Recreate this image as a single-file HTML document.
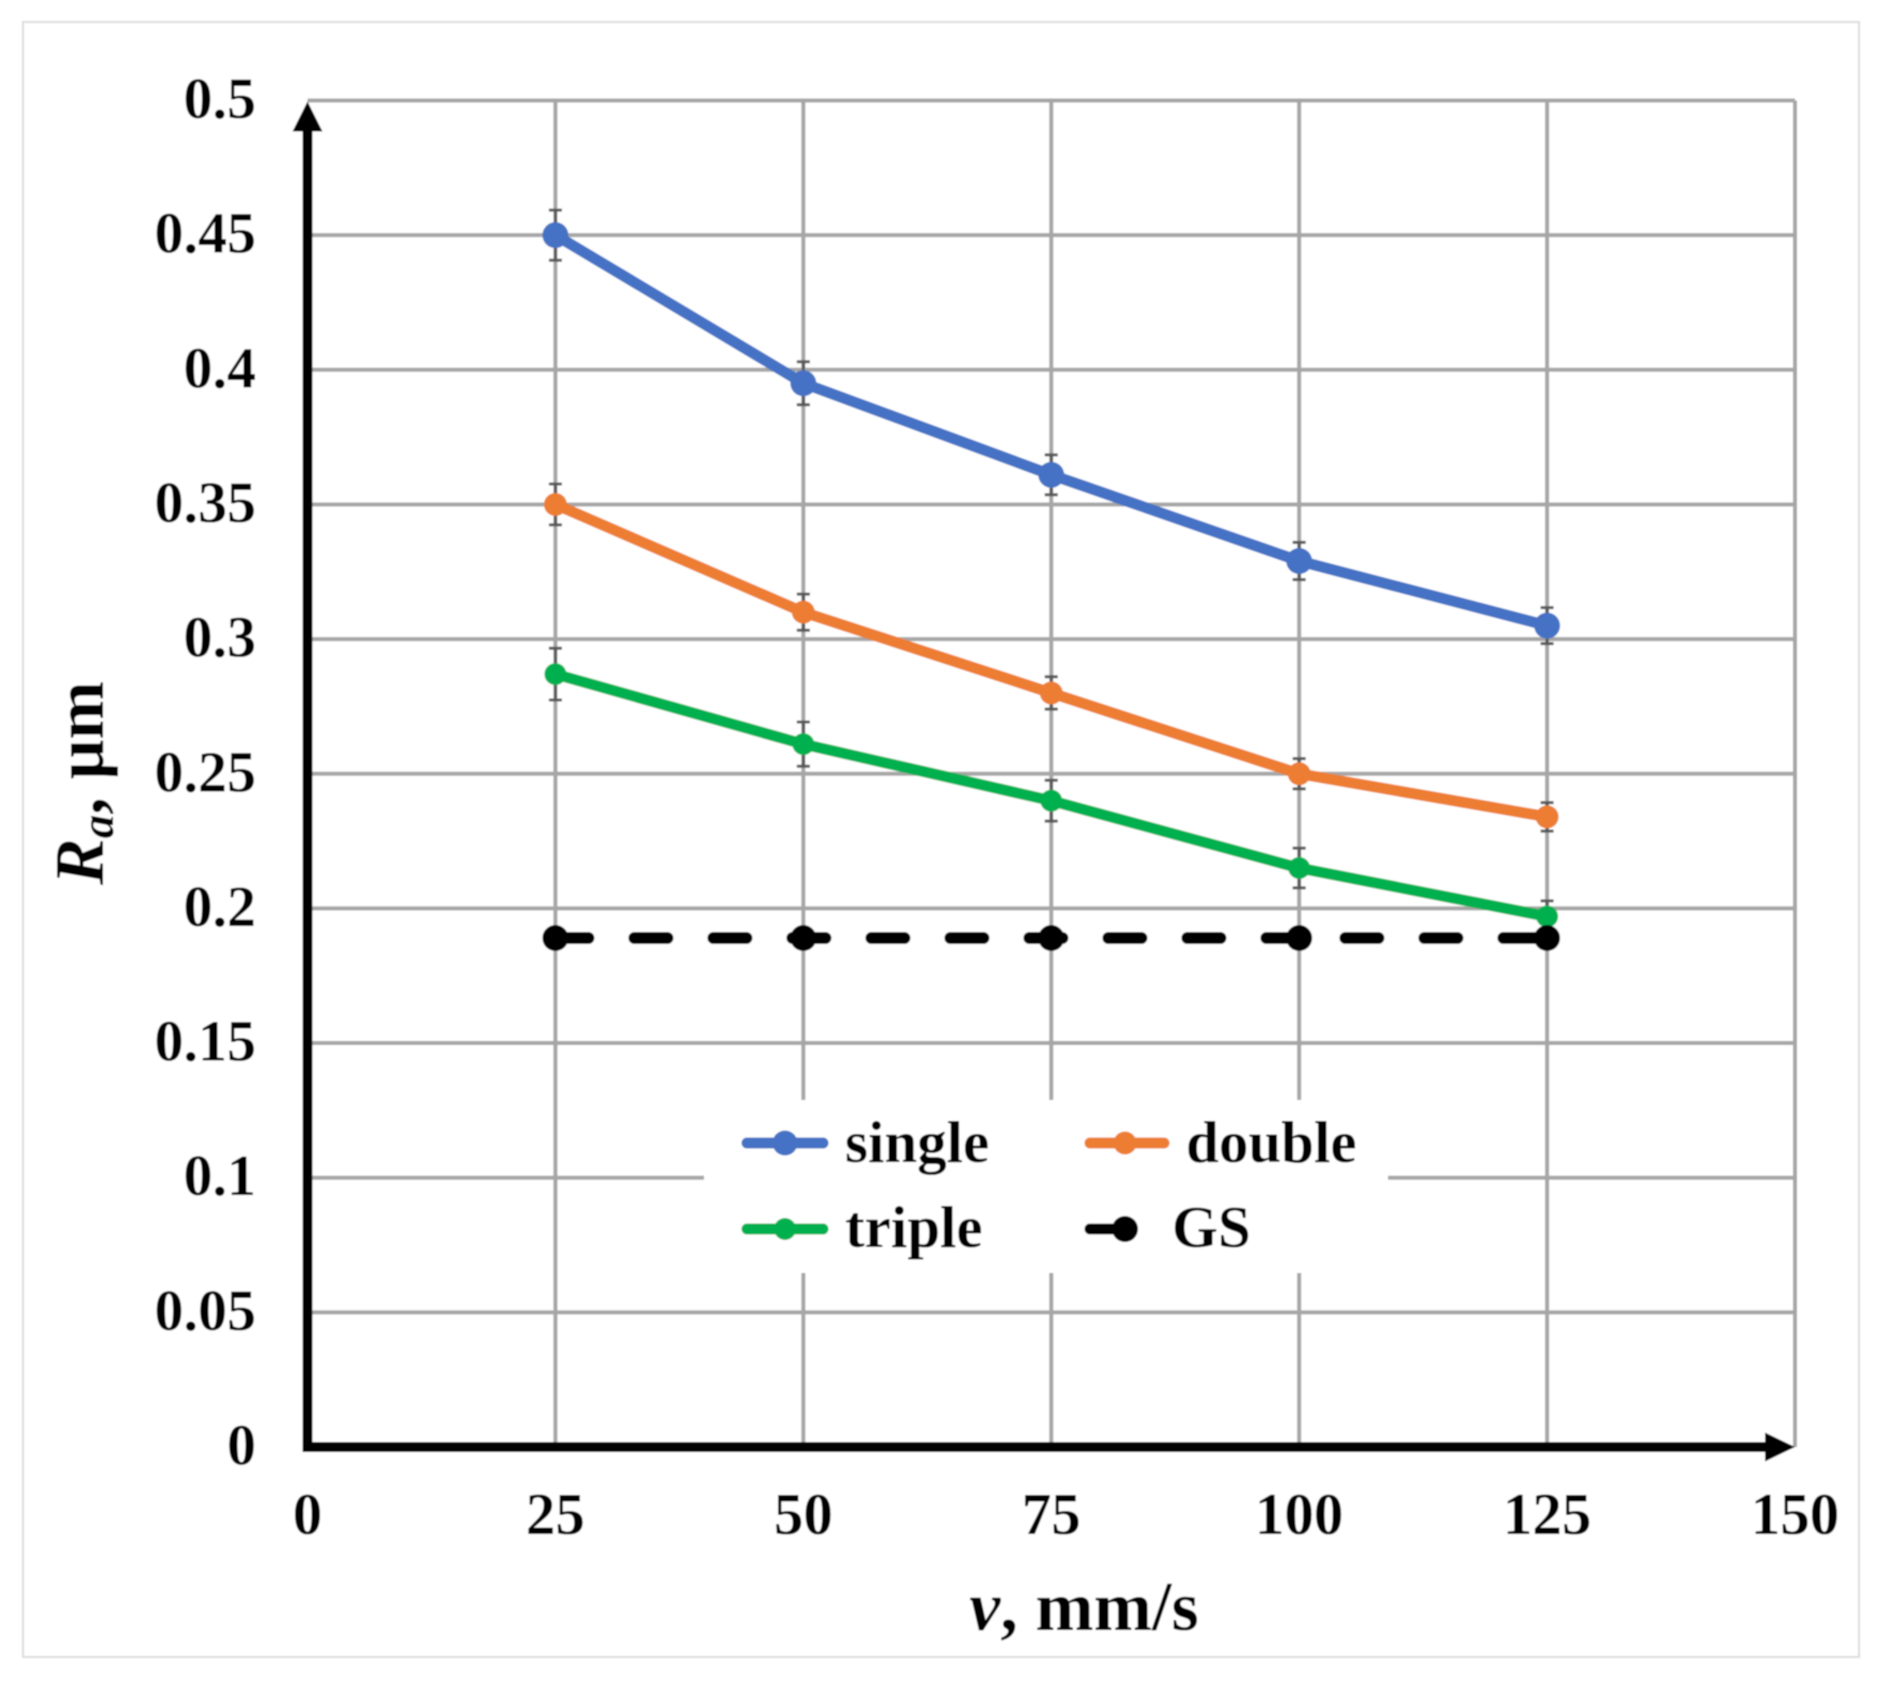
<!DOCTYPE html>
<html lang="en">
<head>
<meta charset="utf-8">
<title>Ra versus scanning speed</title>
<style>
html,body{margin:0;padding:0;background:#fff;width:1880px;height:1684px;overflow:hidden}
svg{display:block}
text{font-family:"Liberation Serif",serif;font-weight:700;fill:#000}
</style>
</head>
<body>
<svg id="chart" xmlns="http://www.w3.org/2000/svg" width="1880" height="1684" viewBox="0 0 1880 1684">
  <defs>
    <filter id="soft" x="-2%" y="-2%" width="104%" height="104%"><feGaussianBlur stdDeviation="0.9"/></filter>
  </defs>
  <g filter="url(#soft)">
    <rect x="23" y="22" width="1836" height="1635" fill="#ffffff" stroke="#dcdcdc" stroke-width="2"/>
    <g id="grid"></g>
    <g id="yticks"></g>
    <g id="xticks"></g>
    <g id="legend-bg">
      <rect x="704" y="1100" width="684" height="173" fill="#ffffff"/>
    </g>
    <g id="axes"></g>
    <g id="errors"></g>
    <g id="series"></g>

    <text x="1084" y="1630" text-anchor="middle" font-size="70"><tspan font-style="italic">v</tspan>, mm/s</text>
    <text transform="translate(103,885) rotate(-90)" font-size="70"><tspan font-style="italic">R</tspan><tspan font-style="italic" font-size="47" dy="10">a</tspan><tspan dy="-10">, µm</tspan></text>

    <g>
      <g>
        <line x1="747" y1="1143" x2="823" y2="1143" stroke="#4472c4" stroke-width="11" stroke-linecap="round"/>
        <circle cx="785" cy="1143" r="12.5" fill="#4472c4"/>
        <text x="845" y="1162" font-size="59">single</text>
      </g>
      <g>
        <line x1="1090" y1="1143" x2="1164" y2="1143" stroke="#ed7d31" stroke-width="11" stroke-linecap="round"/>
        <circle cx="1125" cy="1143" r="11.5" fill="#ed7d31"/>
        <text x="1186" y="1162" font-size="59">double</text>
      </g>
      <g>
        <line x1="747" y1="1229" x2="823" y2="1229" stroke="#00b050" stroke-width="11" stroke-linecap="round"/>
        <circle cx="785" cy="1229" r="11" fill="#00b050"/>
        <text x="845" y="1247" font-size="59">triple</text>
      </g>
      <g>
        <line x1="1090" y1="1229" x2="1125" y2="1229" stroke="#000" stroke-width="11" stroke-linecap="round"/>
        <circle cx="1125" cy="1229" r="13" fill="#000"/>
        <text x="1172" y="1247" font-size="59">GS</text>
      </g>
    </g>
  </g>
</svg>
<script>
var xTickLabels = ['0', '25', '50', '75', '100', '125', '150'];
var yTickLabels = ['0', '0.05', '0.1', '0.15', '0.2', '0.25', '0.3', '0.35', '0.4', '0.45', '0.5'];
var speeds = [25, 50, 75, 100, 125];
var singleValues = [0.45, 0.395, 0.361, 0.329, 0.305];
var doubleValues = [0.35, 0.31, 0.28, 0.25, 0.234];
var tripleValues = [0.287, 0.261, 0.24, 0.215, 0.197];
var gsValues = [0.189, 0.189, 0.189, 0.189, 0.189];
var singleErrors = [0.0093, 0.008, 0.0074, 0.0069, 0.0067];
var doubleErrors = [0.0076, 0.0067, 0.006, 0.0056, 0.0053];
var tripleErrors = [0.0096, 0.0082, 0.0076, 0.0074, 0.0058];

var NS = 'http://www.w3.org/2000/svg';
var X0 = 307.5, X1 = 1795, Y0 = 1447, Y1 = 100.5;
var xMax = 150, yMax = 0.5;
function xScale(v) { return X0 + (X1 - X0) * v / xMax; }
function yScale(v) { return Y0 - (Y0 - Y1) * v / yMax; }
function make(tag, parent, attrs) {
  var el = document.createElementNS(NS, tag);
  for (var k in attrs) el.setAttribute(k, attrs[k]);
  parent.appendChild(el);
  return el;
}
var gridG = document.getElementById('grid');
var yTickG = document.getElementById('yticks');
var xTickG = document.getElementById('xticks');
var axesG = document.getElementById('axes');
var errG = document.getElementById('errors');
var seriesG = document.getElementById('series');

yTickLabels.forEach(function (label) {
  var v = parseFloat(label);
  if (v > 0) {
    var gl = make('line', gridG, { x1: X0, x2: X1, y1: yScale(v), y2: yScale(v), stroke: '#a6a6a6', 'stroke-width': 4 });
    
    
  }
  var t = make('text', yTickG, { x: 256, y: yScale(v) + 17.5, 'text-anchor': 'end', 'font-size': 58 });
  t.textContent = label;
  
  
});
xTickLabels.forEach(function (label) {
  var v = parseFloat(label);
  if (v > 0) {
    var gl = make('line', gridG, { x1: xScale(v), x2: xScale(v), y1: Y1, y2: Y0, stroke: '#a6a6a6', 'stroke-width': 4 });
    
    
  }
  var t = make('text', xTickG, { x: xScale(v), y: 1534, 'text-anchor': 'middle', 'font-size': 59 });
  t.textContent = label;
  
  
});

var yAxisLine = make('line', axesG, { x1: X0, x2: X0, y1: Y0 + 5, y2: Y1 + 28, stroke: '#000', 'stroke-width': 10 });


var yArrow = make('polygon', axesG, { points: (X0 - 15) + ',' + (Y1 + 31) + ' ' + (X0 + 15) + ',' + (Y1 + 31) + ' ' + X0 + ',' + (Y1 + 1), fill: '#000' });


var xAxisLine = make('line', axesG, { x1: X0 - 5, x2: X1 - 28, y1: Y0, y2: Y0, stroke: '#000', 'stroke-width': 10 });


var xArrow = make('polygon', axesG, { points: (X1 - 30) + ',' + (Y0 - 14.5) + ' ' + (X1 - 30) + ',' + (Y0 + 14.5) + ' ' + X1 + ',' + Y0, fill: '#000' });



function drawErrors(name, values, errors) {
  speeds.forEach(function (s, i) {
    var cx = xScale(s), top = yScale(values[i] + errors[i]), bot = yScale(values[i] - errors[i]);
    var path = make('path', errG, {
      d: 'M' + (cx - 6.5) + ' ' + top + 'H' + (cx + 6.5) + 'M' + cx + ' ' + top + 'V' + bot + 'M' + (cx - 6.5) + ' ' + bot + 'H' + (cx + 6.5),
      stroke: '#595959', 'stroke-width': 3, fill: 'none'
    });
    
    
  });
}
drawErrors('single', singleValues, singleErrors);
drawErrors('double', doubleValues, doubleErrors);
drawErrors('triple', tripleValues, tripleErrors);

function drawSeries(name, values, color, radius, dash, width) {
  var pts = speeds.map(function (s, i) { return xScale(s) + ',' + yScale(values[i]); }).join(' ');
  var attrs = { points: pts, fill: 'none', stroke: color, 'stroke-width': width, 'stroke-linejoin': 'round', 'stroke-linecap': 'round' };
  if (dash) attrs['stroke-dasharray'] = dash;
  var line = make('polyline', seriesG, attrs);
  
  
  speeds.forEach(function (s, i) {
    var c = make('circle', seriesG, { cx: xScale(s), cy: yScale(values[i]), r: radius, fill: color });
    
    
  });
}
drawSeries('single', singleValues, '#4472c4', 13, null, 11);
drawSeries('double', doubleValues, '#ed7d31', 11.5, null, 11);
drawSeries('triple', tripleValues, '#00b050', 11, null, 11);
drawSeries('gs', gsValues, '#000000', 13, '33 46', 12);
</script>
</body>
</html>
